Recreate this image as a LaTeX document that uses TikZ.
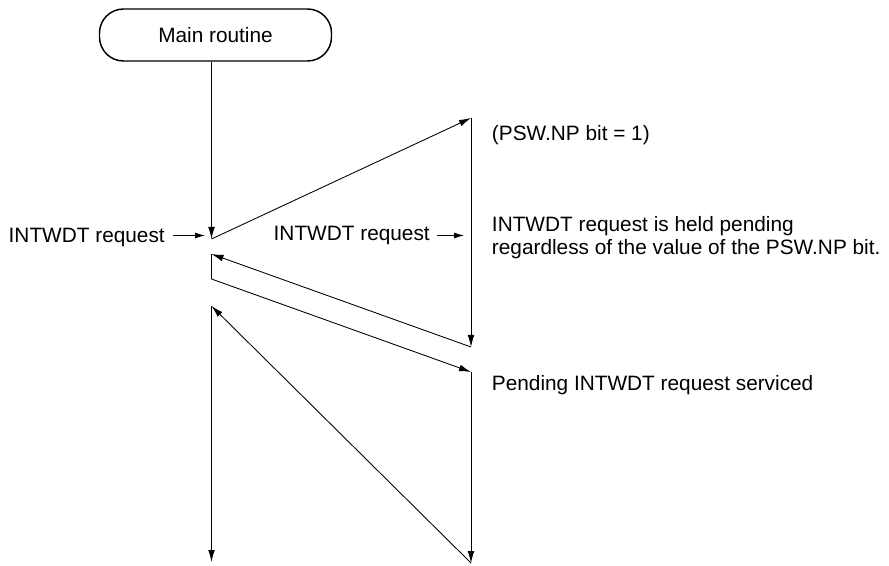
\documentclass[tikz,border=0pt]{standalone}
\usepackage{fontspec}
\setmainfont{Liberation Sans}
\usetikzlibrary{arrows.meta,positioning}
\tikzset{
	>={Latex[length=9pt,width=5pt]},
	routine/.style={
		rectangle,
		rounded corners=18pt,
		draw=black, line width=1.1pt,
		minimum width=174pt,
		minimum height=39pt,
		text centered},
	flow/.style={
		->,
		line width=0.65pt},
	req/.style={
		-{Latex[length=7.5pt,width=4.5pt]},
		line width=0.65pt},
	lbl/.style={
		inner sep=0pt,
		align=left,
		font=\fontsize{15.6}{15}\selectfont}
}
\begin{document}
\begin{tikzpicture}[x=0.75pt,y=0.75pt,yscale=-1,xscale=1]
\useasboundingbox (0,0) rectangle (889,566);

% Main routine
\node [routine, lbl, inner sep=0pt] (main) at (215.5,35) {Main routine};

% turning points of the flow
\coordinate (m1) at (211.5,239);
\coordinate (s1) at (471,118);
\coordinate (s2) at (471,347);
\coordinate (m2) at (211.5,254);
\coordinate (m3) at (211.5,279);
\coordinate (s3) at (471,372);
\coordinate (s4) at (471,563);
\coordinate (m4) at (211.5,306);
\coordinate (m5) at (211.5,562);

\draw [flow] (main.south -| m1) -- (m1);
\draw [flow] (m1) -- (s1);
\draw [flow] (s1) -- (s2);
\draw [flow] (s2) -- (m2);
\draw [line width=0.65pt] (m2) -- (m3);
\draw [flow] (m3) -- (s3);
\draw [flow] (s3) -- (s4);
\draw [flow] (s4) -- (m4);
\draw [flow] (m4) -- (m5);

% Text Node
\node [lbl, anchor=base east] (reqa) at (165,242.7) {INTWDT request};
\coordinate (reqa tip) at (205,235.5);
\draw [req] (reqa.east |- reqa tip) ++(8,0) -- (reqa tip);
% Text Node
\node [lbl, anchor=base east] (reqb) at (430,241) {INTWDT request};
\coordinate (reqb tip) at (464,235.5);
\draw [req] (reqb.east |- reqb tip) ++(7,0) -- (reqb tip);
% Text Node
\node [lbl, anchor=base west] (psw) at (491.7,141) {(PSW.NP bit = 1)};
% Text Node
\node [lbl, anchor=north west] (held) at (491.7,216) {INTWDT request is held pending\\[2.5pt]regardless of the value of the PSW.NP bit.};
% Text Node
\node [lbl, anchor=base west] (serv) at (491.7,390.5) {Pending INTWDT request serviced};
\end{tikzpicture}
\end{document}
